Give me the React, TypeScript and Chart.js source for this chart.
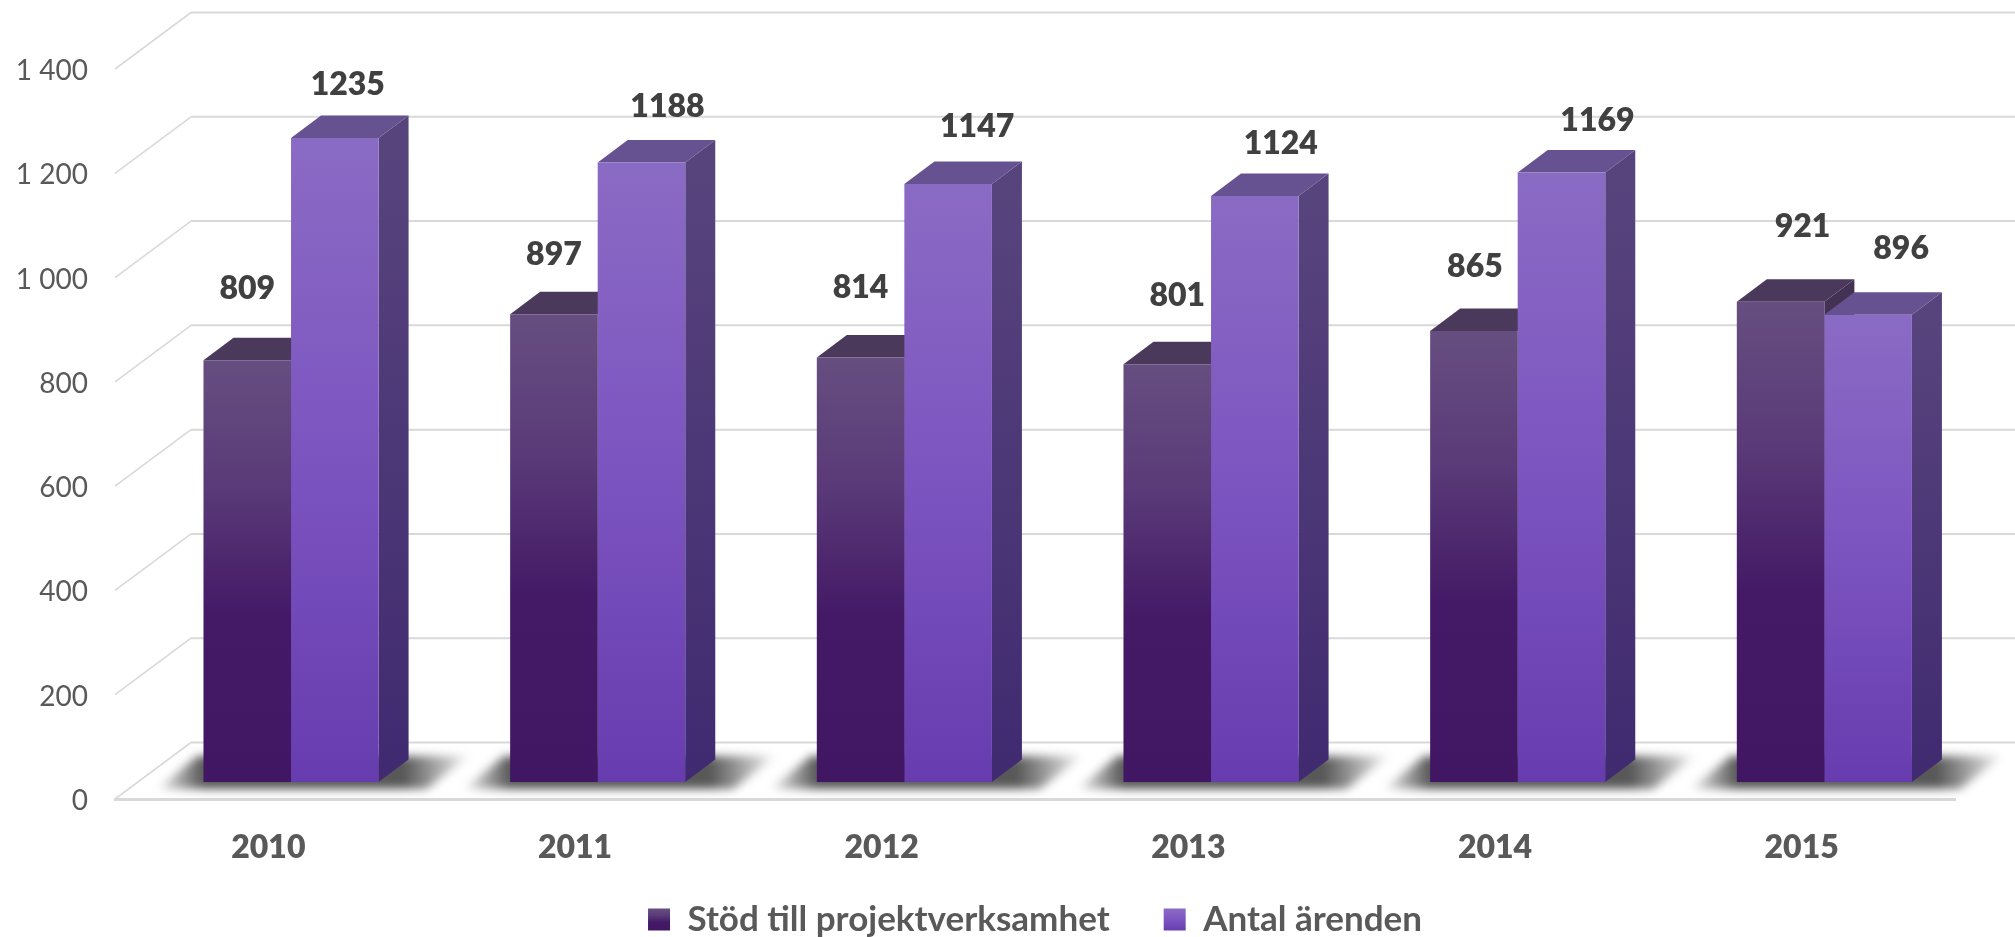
import React, { useEffect, useRef } from "react";
import { Chart, registerables } from "chart.js";

Chart.register(...registerables);

const categories = ["2010", "2011", "2012", "2013", "2014", "2015"];
const seriesNames = ["Stöd till projektverksamhet", "Antal ärenden"];
const stodValues = [809, 897, 814, 801, 865, 921];
const arendenValues = [1235, 1188, 1147, 1124, 1169, 896];
const stodLabelNudge = [[0, -71], [0, -60], [0, -70], [10, -69], [1, -64], [22, -75]];
const arendenLabelNudge = [[13, -53], [26, -56], [29, -57], [26, -52], [36, -52], [33, -66]];

const WIDTH = 2015;
const HEIGHT = 937;
// offset of the bar plane from the front (axis) plane, and of the back wall
const PLANE_DX = 22.7;
const PLANE_DY = -17;
const WALL_DX = 76;
const WALL_DY = -56.5;
const BAR_DX = 30;
const BAR_DY = -22.5;
const FONT = "Lato, 'Open Sans', sans-serif";

type Stops = [number, string][];
const stodFront: Stops = [[0, "rgb(102,78,128)"], [0.3, "rgb(90,58,120)"], [0.6, "rgb(68,26,102)"], [1, "rgb(65,22,98)"]];
const arendenFront: Stops = [[0, "rgb(138,107,196)"], [0.5, "rgb(124,84,192)"], [1, "rgb(103,60,175)"]];
const stodSide: Stops = [[0, "rgb(68,50,85)"], [1, "rgb(60,25,95)"]];
const arendenSide: Stops = [[0, "rgb(88,68,125)"], [1, "rgb(64,42,112)"]];
const stodTop = "rgb(75,57,92)";
const arendenTop = "rgb(102,82,145)";

function grad(ctx: CanvasRenderingContext2D, y0: number, y1: number, stops: Stops) {
  const g = ctx.createLinearGradient(0, y0, 0, y1);
  stops.forEach(([o, c]) => g.addColorStop(o, c));
  return g;
}

function frontFill(stops: Stops) {
  return (c: any) => {
    const chart = c.chart;
    const y = chart.scales?.y;
    if (!chart.chartArea || !y || c.raw == null) return stops[0][1];
    return grad(chart.ctx, y.getPixelForValue(c.raw), y.getPixelForValue(0), stops);
  };
}

function drawExtrusion(ctx: CanvasRenderingContext2D, bar: any, side: Stops, top: string) {
  const hw = bar.width / 2;
  const l = bar.x - hw;
  const r = bar.x + hw;
  const t = bar.y;
  const b = bar.base;
  ctx.fillStyle = top;
  ctx.beginPath();
  ctx.moveTo(l, t);
  ctx.lineTo(l + BAR_DX, t + BAR_DY);
  ctx.lineTo(r + BAR_DX, t + BAR_DY);
  ctx.lineTo(r, t);
  ctx.closePath();
  ctx.fill();
  ctx.fillStyle = grad(ctx, t, b, side);
  ctx.beginPath();
  ctx.moveTo(r, t);
  ctx.lineTo(r + BAR_DX, t + BAR_DY);
  ctx.lineTo(r + BAR_DX, b + BAR_DY);
  ctx.lineTo(r, b);
  ctx.closePath();
  ctx.fill();
}

let nudged = new WeakSet<object>();

const plugin3d = {
  id: "plugin3d",
  beforeDraw(chart: any) {
    // let the x labels draw below the tight axis box
    chart.scales.x.bottom = chart.height;
    // tick labels sit slightly below the front end of their grid lines
    chart.scales.y.getLabelItems().forEach((item: any) => {
      if (!nudged.has(item)) {
        item.options.translation[1] += 2;
        nudged.add(item);
      }
    });
  },
  beforeDatasetsDraw(chart: any) {
    const { ctx, chartArea, scales } = chart;
    ctx.save();
    // walls
    ctx.strokeStyle = "#d9d9d9";
    ctx.lineCap = "butt";
    scales.y.ticks.forEach((tick: any) => {
      const y = scales.y.getPixelForValue(tick.value);
      ctx.lineWidth = 1.6;
      ctx.beginPath();
      ctx.moveTo(chartArea.left, y);
      ctx.lineTo(chartArea.left + WALL_DX, y + WALL_DY);
      ctx.stroke();
      ctx.lineWidth = 2;
      ctx.beginPath();
      ctx.moveTo(chartArea.left + WALL_DX, y + WALL_DY);
      ctx.lineTo(WIDTH, y + WALL_DY);
      ctx.stroke();
    });
    ctx.restore();

    // floor shadows, from each group of bars
    const m0 = chart.getDatasetMeta(0).data;
    const m1 = chart.getDatasetMeta(1).data;
    ctx.save();
    ctx.translate(PLANE_DX, PLANE_DY);
    ctx.filter = "blur(5px)";
    m0.forEach((bar: any, i: number) => {
      const l = bar.x - bar.width / 2;
      const r = m1[i].x + m1[i].width / 2;
      const b = bar.base;
      const g = ctx.createLinearGradient(l - 50, 0, r + 95, 0);
      const span = r + 95 - (l - 50);
      g.addColorStop(0, "rgba(88,88,88,0)");
      g.addColorStop(50 / span, "rgba(88,88,88,1)");
      g.addColorStop((span - 70) / span, "rgba(88,88,88,1)");
      g.addColorStop(1, "rgba(88,88,88,0)");
      ctx.fillStyle = g;
      ctx.beginPath();
      ctx.moveTo(l - 46, b + 7);
      ctx.lineTo(l - 6, b - 26);
      ctx.lineTo(r + 90, b - 26);
      ctx.lineTo(r + 48, b + 7);
      ctx.closePath();
      ctx.fill();
    });
    ctx.filter = "none";
    m0.forEach((bar: any) => drawExtrusion(ctx, bar, stodSide, stodTop));
    m1.forEach((bar: any) => drawExtrusion(ctx, bar, arendenSide, arendenTop));
    // library bars are drawn on the same offset plane
  },
  afterDatasetsDraw(chart: any) {
    const { ctx } = chart;
    ctx.restore();
    ctx.save();
    ctx.font = `800 32px ${FONT}`;
    ctx.fillStyle = "#404040";
    ctx.textAlign = "center";
    ctx.textBaseline = "middle";
    [stodLabelNudge, arendenLabelNudge].forEach((nudge, d) => {
      chart.getDatasetMeta(d).data.forEach((bar: any, i: number) => {
        const value = chart.data.datasets[d].data[i];
        ctx.fillText(String(value), bar.x + PLANE_DX + nudge[i][0], bar.y + PLANE_DY + nudge[i][1]);
      });
    });
    ctx.restore();
  },
};

export default function App() {
  const ref = useRef<HTMLCanvasElement>(null);
  useEffect(() => {
    const canvas = ref.current!;
    const ctx = canvas.getContext("2d")!;
    const chart = new Chart(canvas, {
      type: "bar",
      data: {
        labels: categories,
        datasets: [
          { label: seriesNames[0], data: stodValues, backgroundColor: frontFill(stodFront) as any, borderWidth: 0, clip: false as any },
          { label: seriesNames[1], data: arendenValues, backgroundColor: frontFill(arendenFront) as any, borderWidth: 0, clip: false as any },
        ],
      },
      options: {
        animation: false,
        responsive: false,
        devicePixelRatio: 1,
        layout: { padding: { left: 0, top: 69, right: 60, bottom: -10 } },
        datasets: { bar: { categoryPercentage: 0.571, barPercentage: 1 } },
        plugins: {
          title: { display: false },
          tooltip: { enabled: false },
          legend: {
            display: true,
            position: "bottom",
            align: "center",
            fullSize: false,
            labels: {
              boxWidth: 22,
              boxHeight: 22,
              padding: 54,
              color: "#595959",
              font: { family: FONT, size: 35, weight: "bold" },
              generateLabels: () =>
                seriesNames.map((text, i) => ({
                  text,
                  datasetIndex: i,
                  fillStyle: grad(ctx, 909, 931, i === 0 ? stodFront : arendenFront),
                  strokeStyle: "rgba(0,0,0,0)",
                  lineWidth: 0,
                  fontColor: "#595959",
                })) as any,
            },
          },
        },
        scales: {
          x: {
            type: "category",
            grid: { display: false, drawTicks: false },
            border: { display: true, color: "#d9d9d9", width: 3 },
            ticks: { color: "#595959", font: { family: FONT, size: 32, weight: 800 }, padding: 29, maxRotation: 0 },
            afterFit: (s: any) => { s.height = 49; },
          },
          y: {
            type: "linear",
            min: 0,
            max: 1400,
            grid: { display: false, drawTicks: false },
            border: { display: false },
            ticks: {
              stepSize: 200,
              color: "#595959",
              font: { family: FONT, size: 28 },
              padding: 27,
              callback: (v: any) => String(v).replace(/\B(?=(\d{3})+$)/g, " "),
            },
            afterFit: (s: any) => { s.width = 115; },
          },
        },
      },
      plugins: [plugin3d],
    } as any);
    return () => chart.destroy();
  }, []);
  return (
    <canvas
      ref={ref}
      width={WIDTH}
      height={HEIGHT}
      style={{ position: "fixed", left: 0, top: 0, width: WIDTH, height: HEIGHT, display: "block" }}
    />
  );
}
